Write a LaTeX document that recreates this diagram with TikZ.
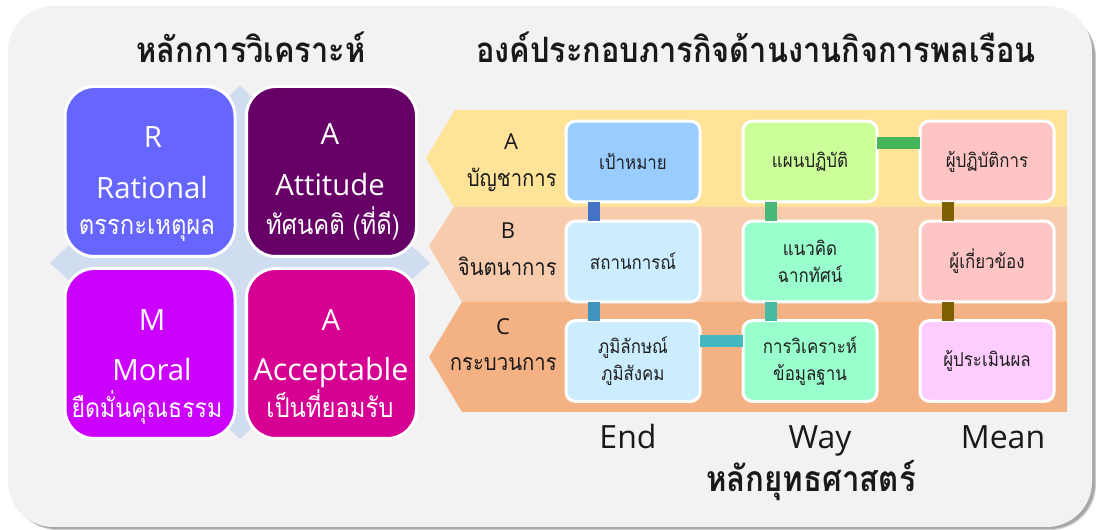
\documentclass[tikz,border=0pt]{standalone}
\usepackage{fontspec}
\setmainfont{Open Sans}
\newfontfamily\thaifont[Script=Thai,FakeStretch=0.88]{Loma}
\definecolor{panel}{HTML}{F2F2F2}
\definecolor{shadowc}{HTML}{A8A8A8}
\definecolor{diam}{HTML}{D0DCEF}
\definecolor{bandA}{HTML}{FFE399}
\definecolor{bandB}{HTML}{F8CBAD}
\definecolor{bandC}{HTML}{F4B183}
\definecolor{qR}{HTML}{6666FF}
\definecolor{qA}{HTML}{660066}
\definecolor{qM}{HTML}{CC00FF}
\definecolor{qB}{HTML}{D60093}
\definecolor{fBlue}{HTML}{99CCFF}
\definecolor{fSky}{HTML}{CCECFF}
\definecolor{fLime}{HTML}{CCFF99}
\definecolor{fMint}{HTML}{99FFCC}
\definecolor{fPink}{HTML}{FFC5C5}
\definecolor{fLilac}{HTML}{FFCCFF}
\definecolor{c1}{HTML}{4472C4}
\definecolor{c2}{HTML}{4292BF}
\definecolor{c3}{HTML}{44B8C0}
\definecolor{c4}{HTML}{47B65A}
\definecolor{c5}{HTML}{47B878}
\definecolor{c6}{HTML}{45BBA0}
\definecolor{c7}{HTML}{7F6000}
\newcommand{\fs}[1]{\fontsize{#1}{#1}\selectfont}
\tikzset{
  quad/.style={draw=white,line width=2.25pt,rounded corners=22pt,minimum width=127.5pt,minimum height=127.5pt,inner sep=0pt,outer sep=0pt},
  cell/.style={draw=white,line width=2.25pt,rounded corners=7pt,minimum width=100.5pt,minimum height=60.5pt,inner sep=0pt,outer sep=0pt,align=center,text=black!88,font=\thaifont\fs{14.4},execute at begin node=\setlength{\baselineskip}{20pt}},
  qlat/.style={text=white,inner sep=0pt,anchor=base,font=\fs{22}},
  qthai/.style={text=white,inner sep=0pt,anchor=base,font=\thaifont\fs{20.3}},
  title/.style={text=black!90,inner sep=0pt,anchor=base,font=\thaifont\bfseries\fs{26.2}},
  rowlat/.style={text=black!90,inner sep=0pt,anchor=base,font=\fs{16.5}},
  rowthai/.style={text=black!90,inner sep=0pt,anchor=base east,font=\thaifont\fs{17.3}},
  axis/.style={text=black!90,inner sep=0pt,anchor=base,font=\fs{24}},
  link/.style={line width=9pt}
}
\begin{document}
\begin{tikzpicture}[x=0.75pt,y=-0.75pt]
\useasboundingbox (0,0) rectangle (1096,530);
\fill[white] (0,0) rectangle (1096,530);
% panel
\fill[shadowc!50] (12,12) [rounded corners=34pt] rectangle (1096,530);
\fill[shadowc] (11,11) [rounded corners=34pt] rectangle (1095,529);
\fill[panel] (8,6) [rounded corners=34pt] rectangle (1092,527);
% diamond
\fill[diam] (240,86) -- (430,263) -- (240,439) -- (50,263) -- cycle;
% bands
\fill[bandA] (455,110) -- (1067,110) -- (1067,207) -- (454,207) -- (426,158) -- cycle;
\fill[bandB] (454,207) -- (1067,207) -- (1067,302) -- (462,302) -- (429,246) -- cycle;
\fill[bandC] (462,302) -- (1067,302) -- (1067,412) -- (462,412) -- (429,357) -- cycle;
% titles
\node[title] (t1) at (251,63) {หลักการวิเคราะห์};
\node[title] (t2) at (756,63) {องค์ประกอบภารกิจด้านงานกิจการพลเรือน};
% quadrants
\node[quad,fill=qR] (qr) at (150,171.5) {};
\node[quad,fill=qA] (qa) at (331.5,171.5) {};
\node[quad,fill=qM] (qm) at (150,353.5) {};
\node[quad,fill=qB] (qb) at (331.5,353.5) {};
\node[qlat] (qr1) at (153,148) {R};
\node[qlat] (qr2) at (152,199) {Rational};
\node[qthai] (qr3) at (147,235) {ตรรกะเหตุผล};
\node[qlat] (qa1) at (330,145) {A};
\node[qlat] (qa2) at (330,196) {Attitude};
\node[qthai] (qa3) at (333,235) {ทัศนคติ (ที่ดี)};
\node[qlat] (qm1) at (152,331) {M};
\node[qlat] (qm2) at (152,381) {Moral};
\node[qthai,font=\thaifont\fs{19.7}] (qm3) at (147,418) {ยืดมั่นคุณธรรม};
\node[qlat] (qb1) at (331,331) {A};
\node[qlat,font=\fs{22.8}] (qb2) at (331,381) {Acceptable};
\node[qthai] (qb3) at (330,418) {เป็นที่ยอมรับ};
% row labels
\node[rowlat] (ra) at (511,150) {A};
\node[rowthai] (rat) at (557,187) {บัญชาการ};
\node[rowlat] (rb) at (508,239) {B};
\node[rowthai] (rbt) at (557,276) {จินตนาการ};
\node[rowlat] (rc) at (503,335) {C};
\node[rowthai] (rct) at (557,371) {กระบวนการ};
% cells
\node[cell,fill=fBlue] (a1) at (633,161.5) {เป้าหมาย};
\node[cell,fill=fLime] (a2) at (810,161.5) {แผนปฏิบัติ};
\node[cell,fill=fPink] (a3) at (987,161.5) {ผู้ปฏิบัติการ};
\node[cell,fill=fSky] (b1) at (633,261.5) {สถานการณ์};
\node[cell,fill=fMint] (b2) at (810,261.5) {แนวคิด\\ฉากทัศน์};
\node[cell,fill=fPink] (b3) at (987,261.5) {ผู้เกี่ยวข้อง};
\node[cell,fill=fSky] (c1n) at (633,361) {ภูมิลักษณ์\\ภูมิสังคม};
\node[cell,fill=fMint] (c2n) at (810,361) {การวิเคราะห์\\ข้อมูลฐาน};
\node[cell,fill=fLilac] (c3n) at (987,361) {ผู้ประเมินผล};
% connectors
\draw[link,c1] ([xshift=-29pt]a1.south) -- ([xshift=-29pt]b1.north);
\draw[link,c2] ([xshift=-29pt]b1.south) -- ([xshift=-29pt]c1n.north);
\draw[link,c3] ([yshift=15pt]c1n.east) -- ([yshift=15pt]c2n.west);
\draw[link,c4] ([yshift=14pt]a2.east) -- ([yshift=14pt]a3.west);
\draw[link,c5] ([xshift=-29pt]a2.south) -- ([xshift=-29pt]b2.north);
\draw[link,c6] ([xshift=-29pt]b2.south) -- ([xshift=-29pt]c2n.north);
\draw[link,c7] ([xshift=-29pt]a3.south) -- ([xshift=-29pt]b3.north);
\draw[link,c7] ([xshift=-29pt]b3.south) -- ([xshift=-29pt]c3n.north);
% axis
\node[axis] (xe) at (628,449) {End};
\node[axis] (xw) at (820,449) {Way};
\node[axis] (xm) at (1003,449) {Mean};
\node[title,font=\thaifont\bfseries\fs{26.6}] (t3) at (811,492) {หลักยุทธศาสตร์};
\end{tikzpicture}
\end{document}
